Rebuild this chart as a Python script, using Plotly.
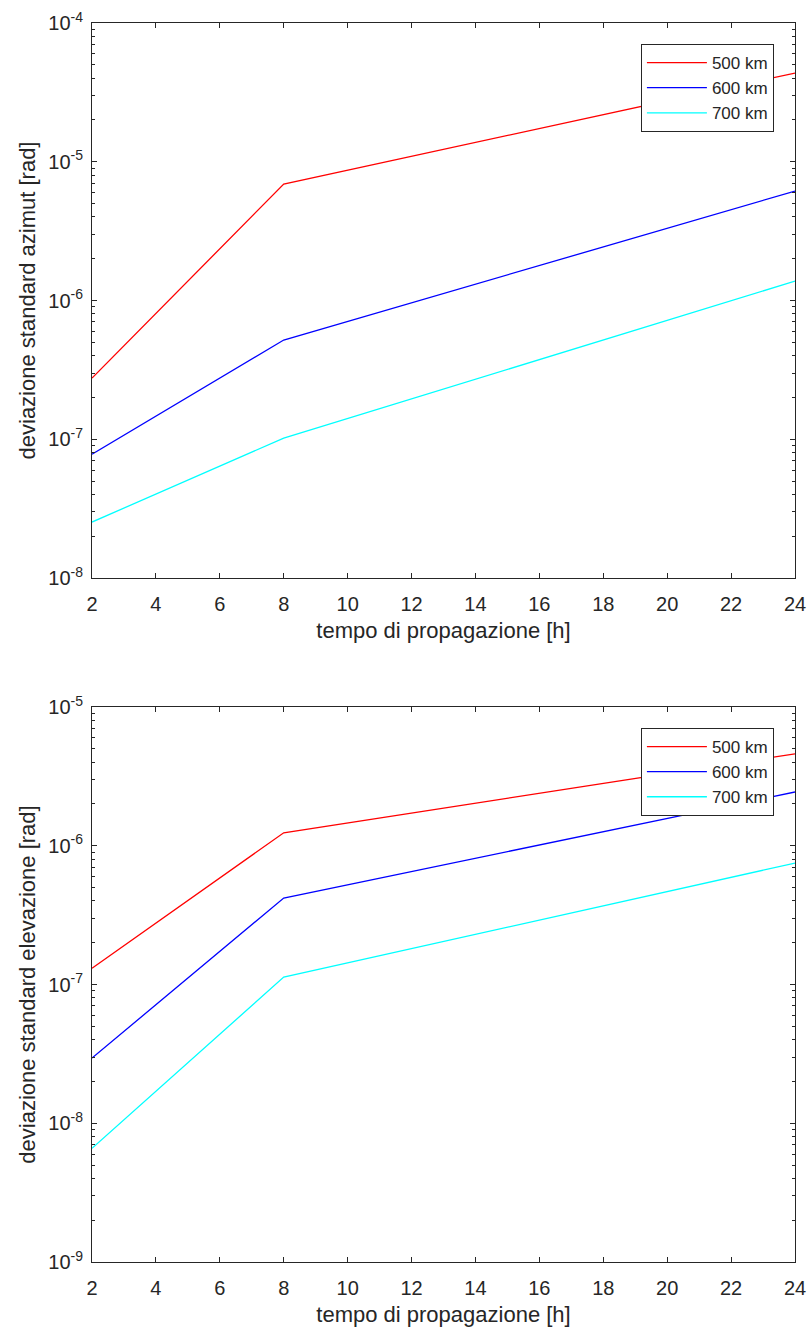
import plotly.graph_objects as go
from plotly.subplots import make_subplots

hours = [2, 8, 24]
series_names = ["500 km", "600 km", "700 km"]
colors = ["#ff0000", "#0000ff", "#00ffff"]

azimut_500 = [2.76e-7, 6.9e-6, 4.36e-5]
azimut_600 = [7.8e-8, 5.19e-7, 6.15e-6]
azimut_700 = [2.53e-8, 1.02e-7, 1.38e-6]

elev_500 = [1.31e-7, 1.24e-6, 4.6e-6]
elev_600 = [2.95e-8, 4.2e-7, 2.44e-6]
elev_700 = [6.6e-9, 1.13e-7, 7.5e-7]

x_ticks = list(range(2, 25, 2))
top_decades = [-8, -7, -6, -5, -4]
bot_decades = [-9, -8, -7, -6, -5]

TXT = "#262626"
FONT = "Liberation Sans, Arial, Helvetica, sans-serif"

fig = make_subplots(rows=2, cols=1, vertical_spacing=129 / 1239)

for name, col, ys in zip(series_names, colors, [azimut_500, azimut_600, azimut_700]):
    fig.add_trace(go.Scatter(x=hours, y=ys, mode="lines", name=name,
                             line=dict(color=col, width=1.3), legend="legend"), row=1, col=1)
for name, col, ys in zip(series_names, colors, [elev_500, elev_600, elev_700]):
    fig.add_trace(go.Scatter(x=hours, y=ys, mode="lines", name=name,
                             line=dict(color=col, width=1.3), legend="legend2"), row=2, col=1)


def log_ticks(decades):
    major = [10.0 ** d for d in decades]
    labels = [f"10<sup>{d}</sup>" for d in decades]
    minor = [m * 10.0 ** d for d in decades[:-1] for m in range(2, 10)]
    return major, labels, minor


common_x = dict(range=[2, 24], tickvals=x_ticks, ticktext=[str(v) for v in x_ticks],
                ticks="inside", ticklen=5, tickcolor=TXT, showline=True, linecolor=TXT,
                linewidth=1, mirror="allticks", showgrid=False, zeroline=False,
                automargin=False, ticklabelstandoff=8,
                tickfont=dict(size=20, color=TXT, family=FONT))

fig.update_xaxes(**common_x)
fig.update_xaxes(title=dict(text="tempo di propagazione [h]", font=dict(size=22, color=TXT, family=FONT), standoff=8))

for row, decs, title in [(1, top_decades, "deviazione standard azimut [rad]"),
                         (2, bot_decades, "deviazione standard elevazione [rad]")]:
    tv, tt, mv = log_ticks(decs)
    fig.update_yaxes(type="log", range=[decs[0], decs[-1]], tickvals=tv, ticktext=tt,
                     ticks="inside", ticklen=5, tickcolor=TXT, showline=True, linecolor=TXT,
                     linewidth=1, mirror="allticks", showgrid=False, zeroline=False,
                     minor=dict(tickvals=mv, ticks="inside", ticklen=3, tickcolor=TXT, showgrid=False),
                     automargin=False, ticklabelstandoff=4,
                     tickfont=dict(size=20, color=TXT, family=FONT),
                     title=dict(text=title, font=dict(size=22, color=TXT, family=FONT), standoff=6),
                     row=row, col=1)

legend_style = dict(bgcolor="white", bordercolor=TXT, borderwidth=1,
                    font=dict(size=17, color=TXT, family=FONT),
                    xanchor="right", yanchor="top", itemwidth=60, tracegroupgap=0)

fig.update_layout(
    width=810, height=1330,
    margin=dict(l=92, r=15, t=23, b=68),
    plot_bgcolor="white", paper_bgcolor="white",
    font=dict(family=FONT, color=TXT),
    legend=dict(x=0.970, y=0.983, **legend_style),
    legend2=dict(x=0.970, y=0.431, **legend_style),
)

fig.write_html("out.html")
